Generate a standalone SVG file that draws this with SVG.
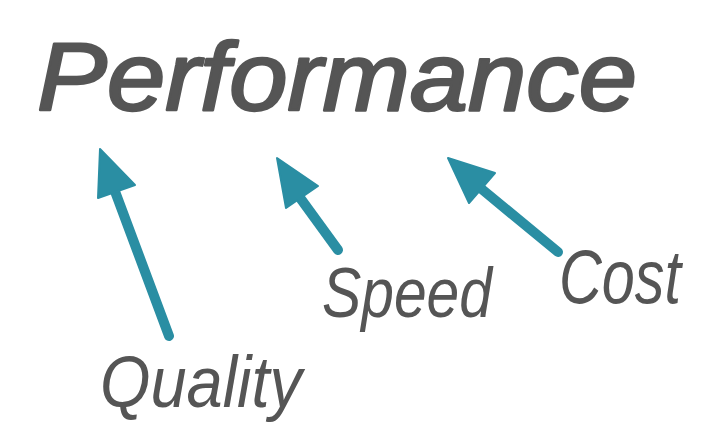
<svg xmlns="http://www.w3.org/2000/svg" width="701" height="422" viewBox="0 0 701 422">
<style>
.t{font-family:"Liberation Sans",Arial,sans-serif;font-style:italic;fill:#555555}
.big{stroke:#555555;stroke-width:2.5;stroke-linejoin:round}
.shaft{stroke:#2a8ea3;stroke-width:10;stroke-linecap:round;fill:none}
.head{fill:#2a8ea3;stroke:#2a8ea3;stroke-width:2;stroke-linejoin:round}
</style>
<rect width="701" height="422" fill="#ffffff"/>
<g id="performance">
<text class="t big" x="37" y="110" font-size="96" textLength="600" lengthAdjust="spacingAndGlyphs">Performance</text>
</g>
<g id="quality">
<text class="t" x="100" y="407" font-size="72" textLength="202" lengthAdjust="spacingAndGlyphs">Quality</text>
</g>
<g id="speed">
<text class="t" x="322" y="317" font-size="70" textLength="170" lengthAdjust="spacingAndGlyphs">Speed</text>
</g>
<g id="cost">
<text class="t" transform="translate(559,303) scale(1,1.25)" x="0" y="0" font-size="61" textLength="122" lengthAdjust="spacingAndGlyphs">Cost</text>
</g>
<g id="connectors">
<line class="shaft" x1="169" y1="336" x2="113" y2="186"/>
<polygon class="head" points="100,149 98,198 135,185"/>
<line class="shaft" x1="338" y1="250" x2="298" y2="195"/>
<polygon class="head" points="277,158 286,208 318,186"/>
<line class="shaft" x1="558" y1="252" x2="478" y2="186"/>
<polygon class="head" points="448,158 469,203 495,173"/>
</g>
</svg>
